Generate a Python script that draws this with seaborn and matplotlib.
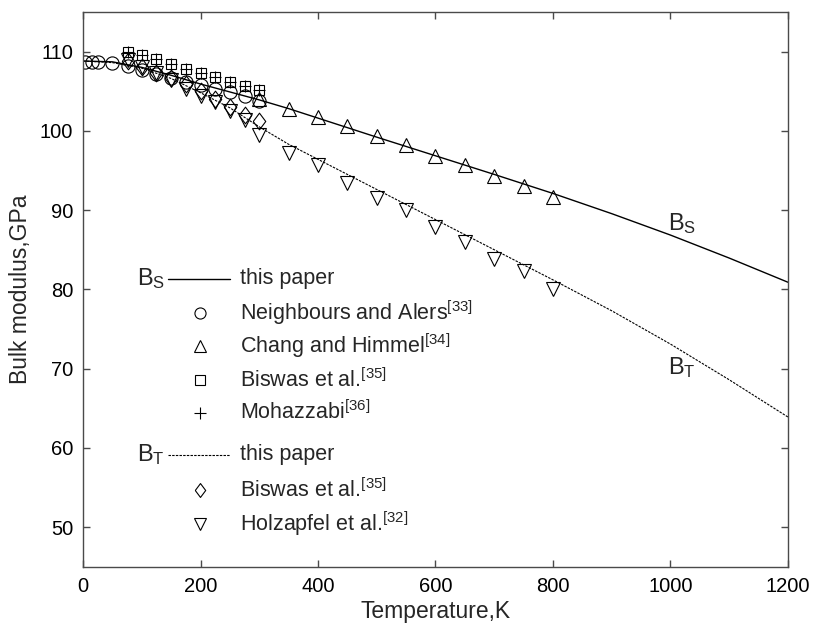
import matplotlib
matplotlib.use("Agg")
import matplotlib.pyplot as plt
import seaborn as sns

# calculated curves (this paper)
t_line = [0, 50, 100, 150, 200, 250, 300, 350, 400, 500, 600, 700, 800, 900, 1000, 1100, 1200]
bs_line = [108.8, 108.7, 108.0, 107.0, 105.9, 104.9, 103.9, 102.8, 101.6, 99.2, 96.85, 94.5, 92.1, 89.55, 86.85, 83.95, 80.9]
bt_line = [108.8, 108.6, 107.9, 106.6, 104.8, 102.9, 100.5, 98.3, 96.4, 92.6, 88.8, 85.0, 81.2, 77.3, 73.1, 68.6, 63.9]

# experimental data
t_neigh = [4, 15, 25, 50, 77, 100, 125, 150, 175, 200, 225, 250, 275, 300]
b_neigh = [108.7, 108.7, 108.7, 108.6, 108.2, 107.7, 107.2, 106.7, 106.2, 105.8, 105.3, 104.9, 104.4, 103.8]

t_chang = [300, 350, 400, 450, 500, 550, 600, 650, 700, 750, 800]
b_chang = [104.0, 102.8, 101.7, 100.6, 99.3, 98.2, 96.8, 95.7, 94.3, 93.1, 91.7]

t_biswas_s = [77, 100, 125, 150, 175, 200, 225, 250, 275, 300]
b_biswas_s = [109.9, 109.6, 109.0, 108.4, 107.8, 107.3, 106.8, 106.2, 105.7, 105.1]

t_mohaz = [77, 100, 125, 150, 175, 200, 225, 250, 275, 300]
b_mohaz = [109.9, 109.6, 109.0, 108.4, 107.8, 107.3, 106.8, 106.2, 105.7, 105.1]

t_biswas_t = [77, 100, 125, 150, 175, 200, 225, 250, 275, 300]
b_biswas_t = [108.8, 108.0, 107.3, 106.6, 105.9, 105.0, 104.0, 103.0, 102.0, 101.2]

t_holz = [77, 100, 125, 150, 175, 200, 225, 250, 275, 300, 350, 400, 450, 500, 550, 600, 650, 700, 750, 800]
b_holz = [108.9, 108.1, 107.3, 106.4, 105.3, 104.4, 103.6, 102.5, 101.4, 99.5,
          97.2, 95.7, 93.4, 91.5, 90.0, 87.9, 86.0, 83.8, 82.3, 80.0]

legend_labels = ["this paper", "Neighbours and Alers$^{[33]}$", "Chang and Himmel$^{[34]}$",
                 "Biswas et al.$^{[35]}$", "Mohazzabi$^{[36]}$", "this paper",
                 "Biswas et al.$^{[35]}$", "Holzapfel et al.$^{[32]}$"]

sns.set_style("ticks")
plt.rcParams["font.family"] = ["Liberation Sans", "DejaVu Sans"]
plt.rcParams["mathtext.fontset"] = "custom"
plt.rcParams["mathtext.rm"] = "Liberation Sans"
plt.rcParams["mathtext.default"] = "regular"

diamond = [(-0.75, 0), (0, 1), (0.75, 0), (0, -1), (-0.75, 0)]
dash_bt = (0, (2.2, 1.1))
spine_c = "#4a4a4a"

fig, ax = plt.subplots(figsize=(8.14, 6.25), dpi=100)
fig.subplots_adjust(left=0.102, right=0.968, bottom=0.093, top=0.981)

sns.lineplot(x=t_line, y=bs_line, ax=ax, color="black", lw=1.0, estimator=None)
sns.lineplot(x=t_line, y=bt_line, ax=ax, color="black", lw=0.8, linestyle=dash_bt, estimator=None)

# markers
pts = [
    (t_neigh, b_neigh, "o", 9.5),
    (t_chang, b_chang, "^", 10.5),
    (t_biswas_s, b_biswas_s, "s", 7.5),
    (t_mohaz, b_mohaz, "+", 8),
    (t_biswas_t, b_biswas_t, diamond, 12),
    (t_holz, b_holz, "v", 10.5),
]
for tx, by, mk, ms in pts:
    sns.lineplot(x=tx, y=by, ax=ax, estimator=None, linestyle="", marker=mk, ms=ms,
                 mfc="none", mec="black", mew=0.8, color="black")

ax.set_xlim(0, 1200)
ax.set_ylim(45, 115)
ax.set_xticks(range(0, 1201, 200))
ax.set_yticks(range(50, 111, 10))
ax.tick_params(direction="in", length=5, width=1, colors=spine_c, labelcolor="black",
               labelsize=14.5, top=True, right=True, pad=7)
for s in ax.spines.values():
    s.set_color(spine_c)
    s.set_linewidth(1)
ax.set_xlabel("Temperature,K", fontsize=16.5, labelpad=3)
ax.set_ylabel("Bulk modulus,GPa", fontsize=16.5, labelpad=6)

# curve labels
ax.text(995, 88.3, "B$_S$", fontsize=17, ha="left", va="center")
ax.text(995, 70.2, "B$_T$", fontsize=17, ha="left", va="center")

# hand-made legend
rows = [0.519, 0.458, 0.398, 0.337, 0.278, 0.202, 0.139, 0.078]
xm, xt = 0.166, 0.223
leg_marks = [None, ("o", 8), ("^", 9), ("s", 6.5), ("+", 8), None, (diamond, 10), ("v", 9)]
for i, (lab, y) in enumerate(zip(legend_labels, rows)):
    ax.text(xt, y, lab, transform=ax.transAxes, fontsize=15.5, ha="left", va="center")
    if leg_marks[i] is None:
        ls = "-" if i == 0 else dash_bt
        lw = 1.0 if i == 0 else 0.8
        ax.plot([0.121, 0.209], [y, y], transform=ax.transAxes, color="black",
                lw=lw, linestyle=ls, clip_on=False)
    else:
        mk, ms = leg_marks[i]
        ax.plot([xm], [y], transform=ax.transAxes, marker=mk, ms=ms, mfc="none",
                mec="black", mew=0.8, color="black", clip_on=False)
ax.text(0.077, rows[0], "B$_S$", transform=ax.transAxes, fontsize=17, ha="left", va="center")
ax.text(0.077, rows[5], "B$_T$", transform=ax.transAxes, fontsize=17, ha="left", va="center")

fig.savefig("out.png", dpi=100)
